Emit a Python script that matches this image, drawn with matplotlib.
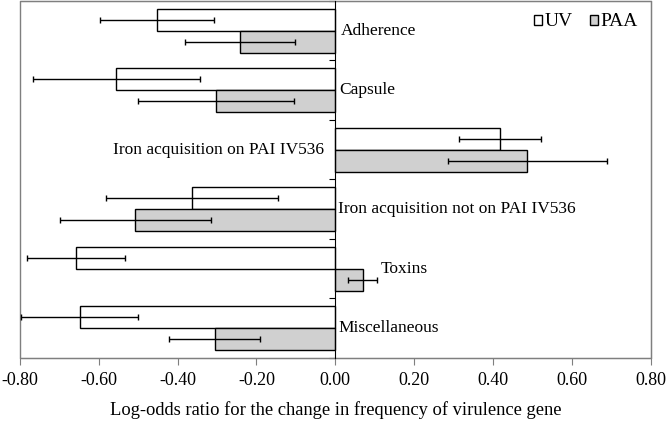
import numpy as np
import matplotlib.pyplot as plt
from matplotlib.patches import Rectangle

# data
categories = ['Adherence', 'Capsule', 'Iron acquisition on PAI IV536',
              'Iron acquisition not on PAI IV536', 'Toxins', 'Miscellaneous']
uv_vals = [-0.453, -0.556, 0.418, -0.363, -0.658, -0.649]
uv_err = [0.144, 0.212, 0.105, 0.218, 0.124, 0.148]
paa_vals = [-0.242, -0.303, 0.487, -0.507, 0.069, -0.306]
paa_err = [0.140, 0.198, 0.201, 0.192, 0.036, 0.115]
x_ticks = [-0.8, -0.6, -0.4, -0.2, 0.0, 0.2, 0.4, 0.6, 0.8]

plt.rcParams['font.family'] = ['Liberation Serif', 'DejaVu Serif']
plt.rcParams['font.size'] = 12.5

fig = plt.figure(figsize=(6.66, 4.22), dpi=100)
ax = fig.add_axes([0.030, 0.152, 0.947, 0.846])

y = np.arange(len(categories))
h = 0.37
gray = '#7f7f7f'

ax.barh(y - h / 2, uv_vals, height=h, color='white', edgecolor='black',
        linewidth=1, label='UV', zorder=2)
ax.barh(y + h / 2, paa_vals, height=h, color='#d0d0d0', edgecolor='black',
        linewidth=1, label='PAA', zorder=2)
ax.errorbar(uv_vals, y - h / 2, xerr=uv_err, fmt='none', ecolor='black',
            elinewidth=1, capsize=2.3, capthick=1, zorder=3)
ax.errorbar(paa_vals, y + h / 2, xerr=paa_err, fmt='none', ecolor='black',
            elinewidth=1, capsize=2.3, capthick=1, zorder=3)

# category labels sit next to the zero line
label_x = [0.013, 0.009, -0.029, 0.008, 0.115, 0.009]
for i, name in enumerate(categories):
    ha = 'right' if label_x[i] < 0 else 'left'
    ax.text(label_x[i], y[i], name, ha=ha, va='center', fontsize=12.5)

ax.set_xlim(-0.8, 0.8)
ax.set_ylim(len(categories) - 0.5, -0.5)
ax.set_xticks(x_ticks)
ax.set_xticklabels([f'{v:.2f}' for v in x_ticks], fontsize=13)
ax.set_yticks(np.arange(len(categories) + 1) - 0.5)
ax.set_yticklabels([])

ax.spines['left'].set_position(('data', 0))
ax.spines['left'].set_color('black')
ax.spines['left'].set_zorder(4)
for s in ['top', 'right', 'bottom']:
    ax.spines[s].set_color(gray)
ax.add_patch(Rectangle((0, 0), 1, 1, transform=ax.transAxes, fill=False,
                       edgecolor=gray, linewidth=1, clip_on=False))
ax.tick_params(axis='y', length=4, color='black', direction='out')
ax.tick_params(axis='x', length=5, color=gray, direction='out', pad=5)

ax.set_xlabel('Log-odds ratio for the change in frequency of virulence gene',
              fontsize=13.3, labelpad=9)
ax.legend(loc='upper right', ncol=2, frameon=False, handlelength=0.42,
          handleheight=0.42, handletextpad=0.15, columnspacing=0.85,
          borderaxespad=0.25, fontsize=14)

plt.savefig('out.png', dpi=100)
